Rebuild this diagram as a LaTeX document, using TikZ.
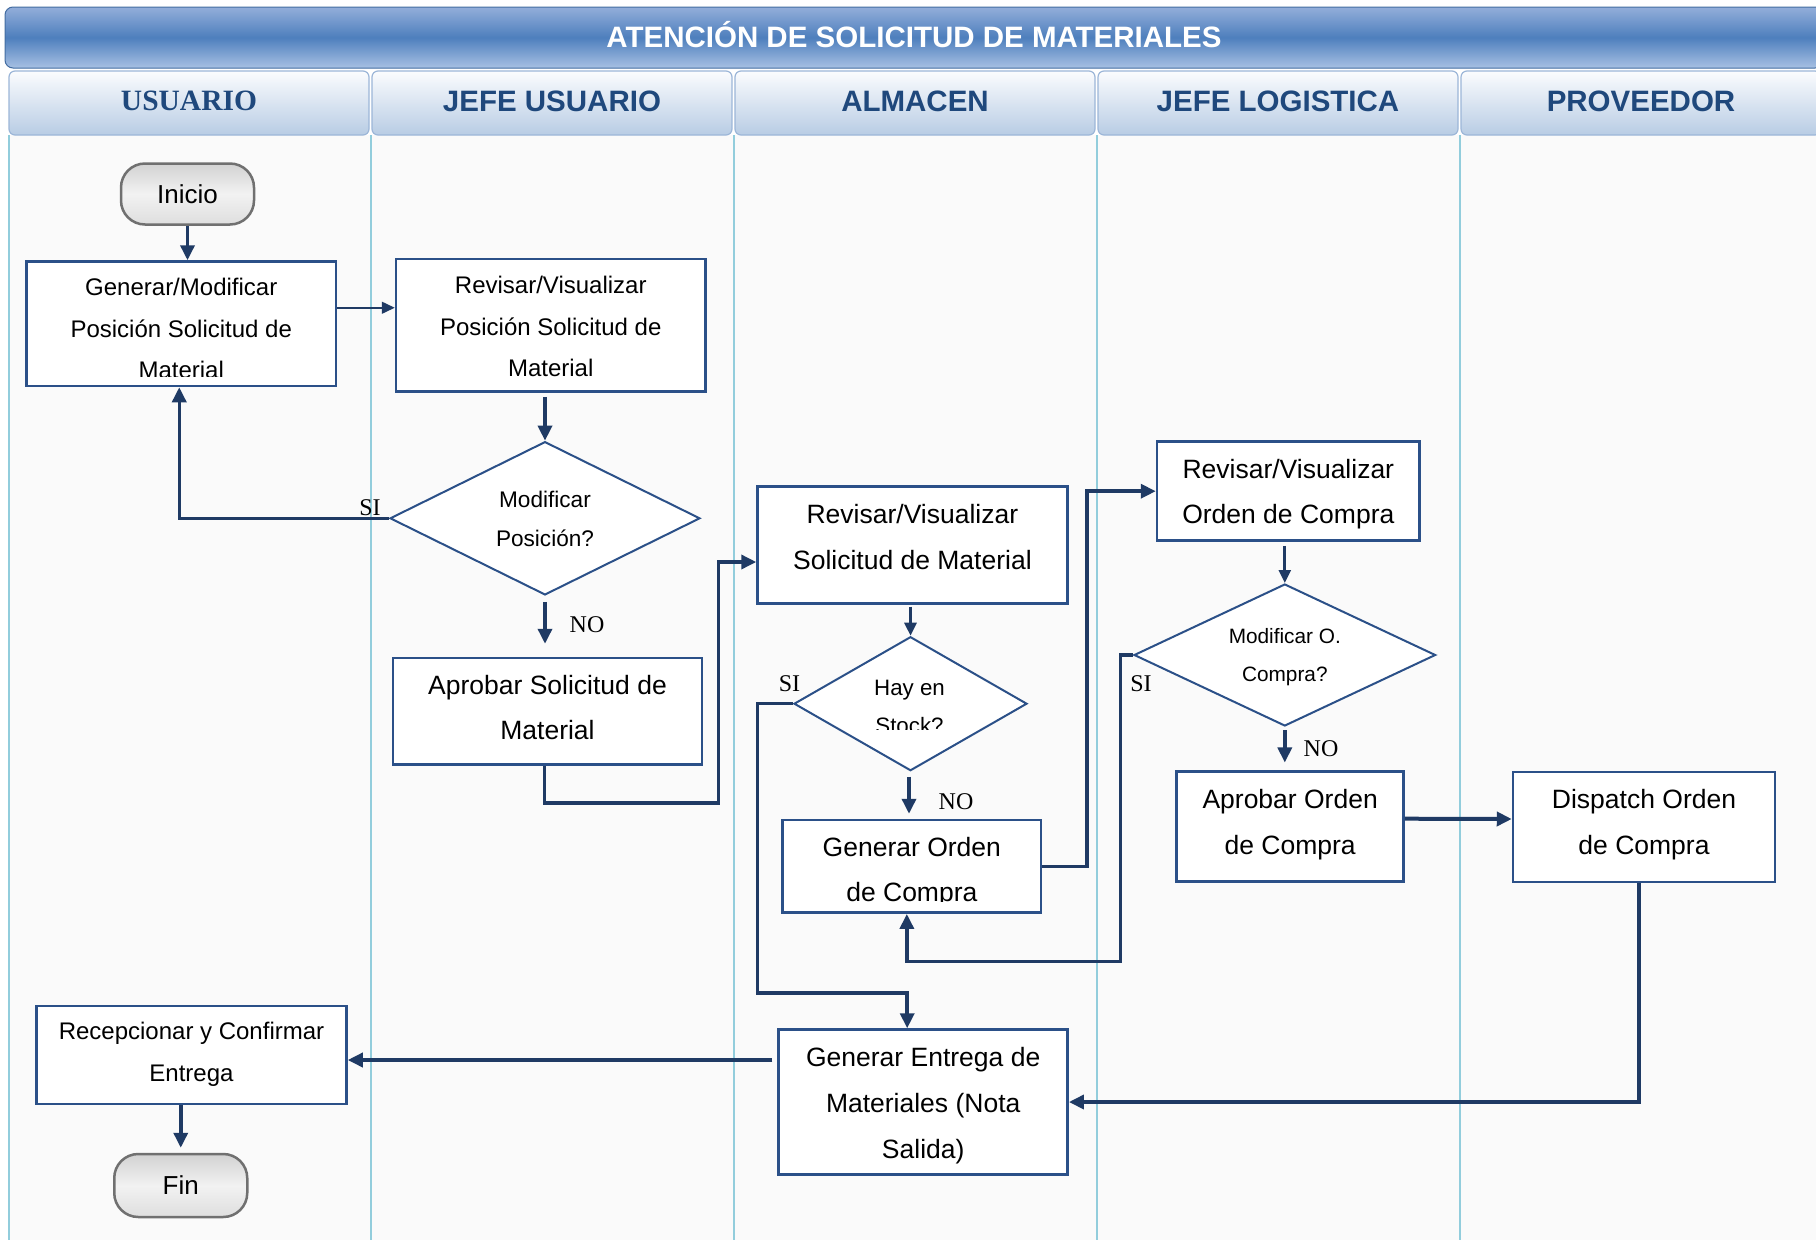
\documentclass[tikz,border=0pt]{standalone}
\usepackage{fontspec}
\setmainfont{Liberation Sans}
\newfontfamily\labelserif{Liberation Serif}
\usetikzlibrary{arrows.meta,shapes.geometric,calc}

\definecolor{connblue}{HTML}{1F3A64}
\definecolor{boxline}{HTML}{2B5088}
\definecolor{lanerule}{HTML}{92CDDC}
\definecolor{lanefill}{HTML}{FAFAFA}
\definecolor{headtext}{HTML}{1F487C}
\definecolor{titletop}{HTML}{93AEDA}
\definecolor{titlemid}{HTML}{4E7FBD}
\definecolor{titlebot}{HTML}{A7C0E3}
\definecolor{lanehtop}{HTML}{FBFCFE}
\definecolor{lanehbot}{HTML}{B8CCE4}
\definecolor{lanehline}{HTML}{9CB6D8}
\definecolor{termline}{HTML}{707070}
\definecolor{termtop}{HTML}{D2D2D2}
\definecolor{termmid}{HTML}{F2F2F2}
\definecolor{termbot}{HTML}{DEDEDE}

\newcommand\fsz[2]{\fontsize{#1pt}{#2pt}\selectfont}

\begin{document}
\begin{tikzpicture}[x=1pt,y=-1pt,
  stepbox/.style={draw=boxline, line width=2.5pt, fill=white, inner sep=0pt},
  decision/.style={diamond, draw=boxline, line width=2pt, fill=white, inner sep=0pt},
  terminal/.style={draw=termline, line width=2.5pt, rounded corners=24pt,
    top color=termtop, bottom color=termbot, middle color=termmid,
    inner sep=0pt, font=\fsz{26}{26}},
  txt/.style={align=center, inner sep=0pt, text=black,
    execute at begin node=\strut, execute at end node=\strut},
  flow/.style={draw=connblue, line width=3.5pt, -{Triangle[length=15pt,width=14pt]}},
  midflow/.style={draw=connblue, line width=2.8pt, -{Triangle[length=13pt,width=12pt]}},
  thinflow/.style={draw=connblue, line width=1.5pt, -{Triangle[length=13pt,width=12pt]}},
  answer/.style={inner sep=0pt, font=\labelserif\fsz{24}{24}},
  lanehead/.style={draw=lanehline, line width=1.2pt, rounded corners=6pt,
    top color=lanehtop, bottom color=lanehbot, minimum height=64pt,
    text depth=4pt, text=headtext, font=\bfseries\fsz{29.5}{29.5}},
  titlebar/.style={draw=titlemid!85!black, line width=1pt, rounded corners=8pt,
    top color=titletop, bottom color=titlebot, middle color=titlemid,
    minimum height=61pt, text depth=7pt, text=white, font=\bfseries\fsz{29.5}{29.5}}
]
\useasboundingbox (0,0) rectangle (1816,1240);
\clip (0,0) rectangle (1816,1240);
\fill[white] (0,0) rectangle (1816,1240);

% swimlane bodies and separators
\fill[lanefill] (9,135) rectangle (1830,1240);
\foreach \x in {9,371,734,1097,1460}
  \draw[lanerule, line width=2pt] (\x,135) -- (\x,1240);

% title and lane headers
\node[titlebar, minimum width=1818pt] (title) at (914,37.5) {ATENCIÓN DE SOLICITUD DE MATERIALES};
\node[lanehead, minimum width=360pt] (hUsuario) at (189,103) {\labelserif USUARIO};
\node[lanehead, minimum width=360pt] (hJefeUsuario) at (552,103) {JEFE USUARIO};
\node[lanehead, minimum width=360pt] (hAlmacen) at (915,103) {ALMACEN};
\node[lanehead, minimum width=360pt] (hJefeLog) at (1278,103) {JEFE LOGISTICA};
\node[lanehead, minimum width=360pt] (hProveedor) at (1641,103) {PROVEEDOR};

% terminals
\node[terminal, minimum width=133pt, minimum height=61pt] (inicio) at (187.5,194) {Inicio};
\node[terminal, minimum width=133pt, minimum height=63pt] (fin) at (180.75,1185.5) {Fin};

% process boxes
\node[stepbox, minimum width=309.5pt, minimum height=124.5pt] (genmod) at (181.25,323.75) {};
\node[stepbox, minimum width=309.5pt, minimum height=132.5pt] (revpos) at (550.75,325.25) {};
\node[stepbox, minimum width=309pt, minimum height=106.5pt] (aprobsol) at (547.5,711.25) {};
\node[stepbox, minimum width=309.8pt, minimum height=116.6pt] (revsol) at (912.4,545) {};
\node[stepbox, minimum width=258.3pt, minimum height=92.7pt] (genorden) at (911.85,866.35) {};
\node[stepbox, minimum width=262.6pt, minimum height=99pt] (revoc) at (1288.3,491.2) {};
\node[stepbox, minimum width=226.9pt, minimum height=110pt] (aprobOC) at (1290.15,826.7) {};
\node[stepbox, minimum width=262pt, minimum height=110pt] (dispatch) at (1644,827) {};
\node[stepbox, minimum width=289pt, minimum height=145pt] (genent) at (923.2,1102) {};
\node[stepbox, minimum width=310pt, minimum height=98pt] (recep) at (191.5,1055) {};

% decisions
\node[decision, minimum width=310pt, minimum height=153.3pt] (modpos) at (545,518.3) {};
\node[decision, minimum width=233pt, minimum height=134pt] (stock) at (910.5,703.7) {};
\node[decision, minimum width=301.6pt, minimum height=142pt] (modoc) at (1284.8,655) {};

% texts inside the shapes (some are cut off by their text frames)
\begin{scope}
  \clip (genmod.north west) rectangle ([yshift=11pt]genmod.south east);
  \node[txt, font=\fsz{24}{41.5}] (genmod-t) at (181.25,335) {Generar/Modificar\\Posición Solicitud de\\Material};
\end{scope}
\node[txt, font=\fsz{24}{41.5}] (revpos-t) at (550.75,333) {Revisar/Visualizar\\Posición Solicitud de\\Material};
\node[txt, font=\fsz{22.6}{39}] (modpos-t) at (545,524.5) {Modificar\\Posición?};
\node[txt, font=\fsz{26.5}{45}] (aprobsol-t) at (547.5,714) {Aprobar Solicitud de\\Material};
\node[txt, font=\fsz{26.5}{45.5}] (revsol-t) at (912.4,543.5) {Revisar/Visualizar\\Solicitud de Material};
\begin{scope}
  \clip (790,630) rectangle (1030,729);
  \node[txt, font=\fsz{22.3}{37.5}] (stock-t) at (909.5,712.5) {Hay en\\Stock?};
\end{scope}
\begin{scope}
  \clip (genorden.north west) rectangle ([yshift=12pt]genorden.south east);
  \node[txt, font=\fsz{26.5}{45}] (genorden-t) at (911.85,876.5) {Generar Orden\\de Compra};
\end{scope}
\node[txt, font=\fsz{26.5}{45}] (revoc-t) at (1288.3,498) {Revisar/Visualizar\\Orden de Compra};
\node[txt, font=\fsz{20.8}{37.5}] (modoc-t) at (1284.8,660.5) {Modificar O.\\Compra?};
\node[txt, font=\fsz{26.5}{45.5}] (aprobOC-t) at (1290.15,828.5) {Aprobar Orden\\de Compra};
\node[txt, font=\fsz{26.5}{45.5}] (dispatch-t) at (1644,828.5) {Dispatch Orden\\de Compra};
\node[txt, font=\fsz{26.5}{46}] (genent-t) at (923.2,1110) {Generar Entrega de\\Materiales (Nota\\Salida)};
\node[txt, font=\fsz{24}{42}] (recep-t) at (191.5,1058.5) {Recepcionar y Confirmar\\Entrega};

% decision answers
\node[answer] (si1) at (370,507.5) {SI};
\node[answer] (no1) at (587,625) {NO};
\node[answer] (si2) at (789.5,684) {SI};
\node[answer] (no2) at (956,801.7) {NO};
\node[answer] (si3) at (1141,684) {SI};
\node[answer] (no3) at (1321,748.5) {NO};

% connectors
\coordinate (entregaIn) at ($(recep.east)+(0,5)$);
\draw[flow] (inicio.south) -- (inicio.south |- genmod.north);
\draw[thinflow] ([yshift=16pt]genmod.east) -- ([yshift=17.5pt]revpos.west);
\draw[flow, shorten <=4pt] (modpos.north |- revpos.south) -- (modpos.north);
\draw[flow] (modpos.west) -| ([xshift=-2pt]genmod.south);
\draw[flow, shorten <=6pt, shorten >=13pt] (modpos.south) -- (modpos.south |- aprobsol.north);
\draw[flow] ([xshift=-3pt]aprobsol.south) |- (718.5,803) |- ([yshift=-17pt]revsol.west);
\draw[midflow, shorten <=2pt] (stock.north |- revsol.south) -- (stock.north);
\draw[flow, shorten <=5pt, shorten >=5pt] ([xshift=-1.5pt]stock.south) -- ([xshift=-1.5pt]stock.south |- genorden.north);
\draw[flow] (stock.west) -| (757.5,993) -| ([xshift=-16pt]genent.north);
\draw[flow] (genorden.east) -| ([xshift=-69pt]revoc.west) -- (revoc.west);
\draw[midflow, shorten <=4pt] (modoc.north |- revoc.south) -- (modoc.north);
\draw[flow, shorten <=3pt, shorten >=8pt] (modoc.south) -- (modoc.south |- aprobOC.north);
\draw[flow] (modoc.west) -| (1120.5,961.7) -| ([xshift=-5pt]genorden.south);
\draw[flow, line width=4pt] ([yshift=8pt]aprobOC.east) -- ([yshift=8pt]dispatch.west);
\draw[flow] ([xshift=-5pt]dispatch.south) |- (genent.east);
\draw[flow, shorten <=5pt] (genent.west |- entregaIn) -- (entregaIn);
\draw[flow, shorten >=5pt] (fin.north |- recep.south) -- (fin.north);
\end{tikzpicture}
\end{document}
